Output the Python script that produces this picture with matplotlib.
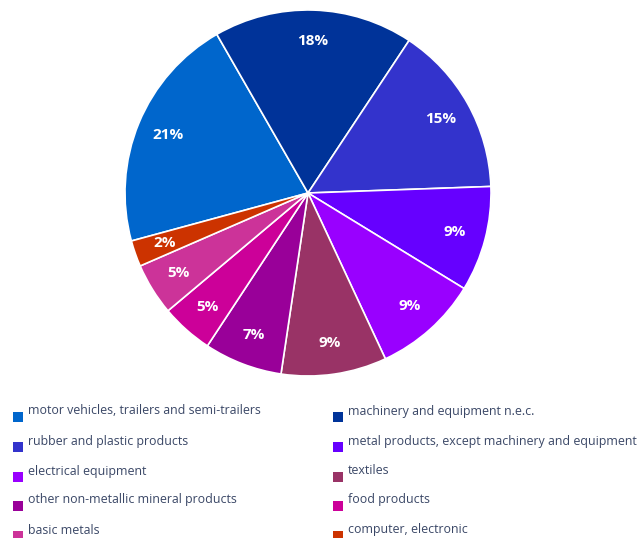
import matplotlib
matplotlib.use('Agg')
import matplotlib.pyplot as plt
from matplotlib.patches import Rectangle

# slice shares (%), clockwise from the motor vehicles slice
categories = [
    'motor vehicles, trailers and semi-trailers',
    'machinery and equipment n.e.c.',
    'rubber and plastic products',
    'metal products, except machinery and equipment',
    'electrical equipment',
    'textiles',
    'other non-metallic mineral products',
    'food products',
    'basic metals',
    'computer, electronic',
]
shares = [20.9, 17.6, 15.1, 9.3, 9.3, 9.3, 6.9, 4.6, 4.6, 2.3]
colors = ['#0066CC', '#003399', '#3333CC', '#6600FF', '#9900FF',
          '#993366', '#990099', '#CC0099', '#CC3399', '#CC3300']

W, H = 640, 538
fig = plt.figure(figsize=(W / 100, H / 100), dpi=100)

# pie: center (308,193) px, radius 183 px
cx, cy, r = 308, 193, 183
ax = fig.add_axes([(cx - r) / W, (H - cy - r) / H, 2 * r / W, 2 * r / H])
wedges, texts, autotexts = ax.pie(
    shares, colors=colors, startangle=195.2, counterclock=False,
    autopct=lambda p: f'{p:.0f}%', pctdistance=0.83,
    wedgeprops=dict(edgecolor='white', linewidth=1.2),
    textprops=dict(color='white', fontsize=11, fontweight='bold',
                   family='Open Sans'))
ax.set_xlim(-1, 1)
ax.set_ylim(-1, 1)
ax.set_aspect('equal')

# legend in two columns
text_color = '#3a4766'
row_y = [411, 441, 471, 500, 530]
col_x = [13, 333]
for i, (name, col) in enumerate(zip(categories, colors)):
    row, c = divmod(i, 2)
    x0 = col_x[c]
    y0 = row_y[row]
    fig.add_artist(Rectangle((x0 / W, (H - y0 - 11) / H), 10 / W, 10 / H,
                             transform=fig.transFigure, color=col, lw=0))
    fig.text((x0 + 15) / W, (H - y0) / H, name, fontsize=8.9, color=text_color,
             va='center', ha='left', family='Open Sans')

plt.savefig('out.png', dpi=100)
